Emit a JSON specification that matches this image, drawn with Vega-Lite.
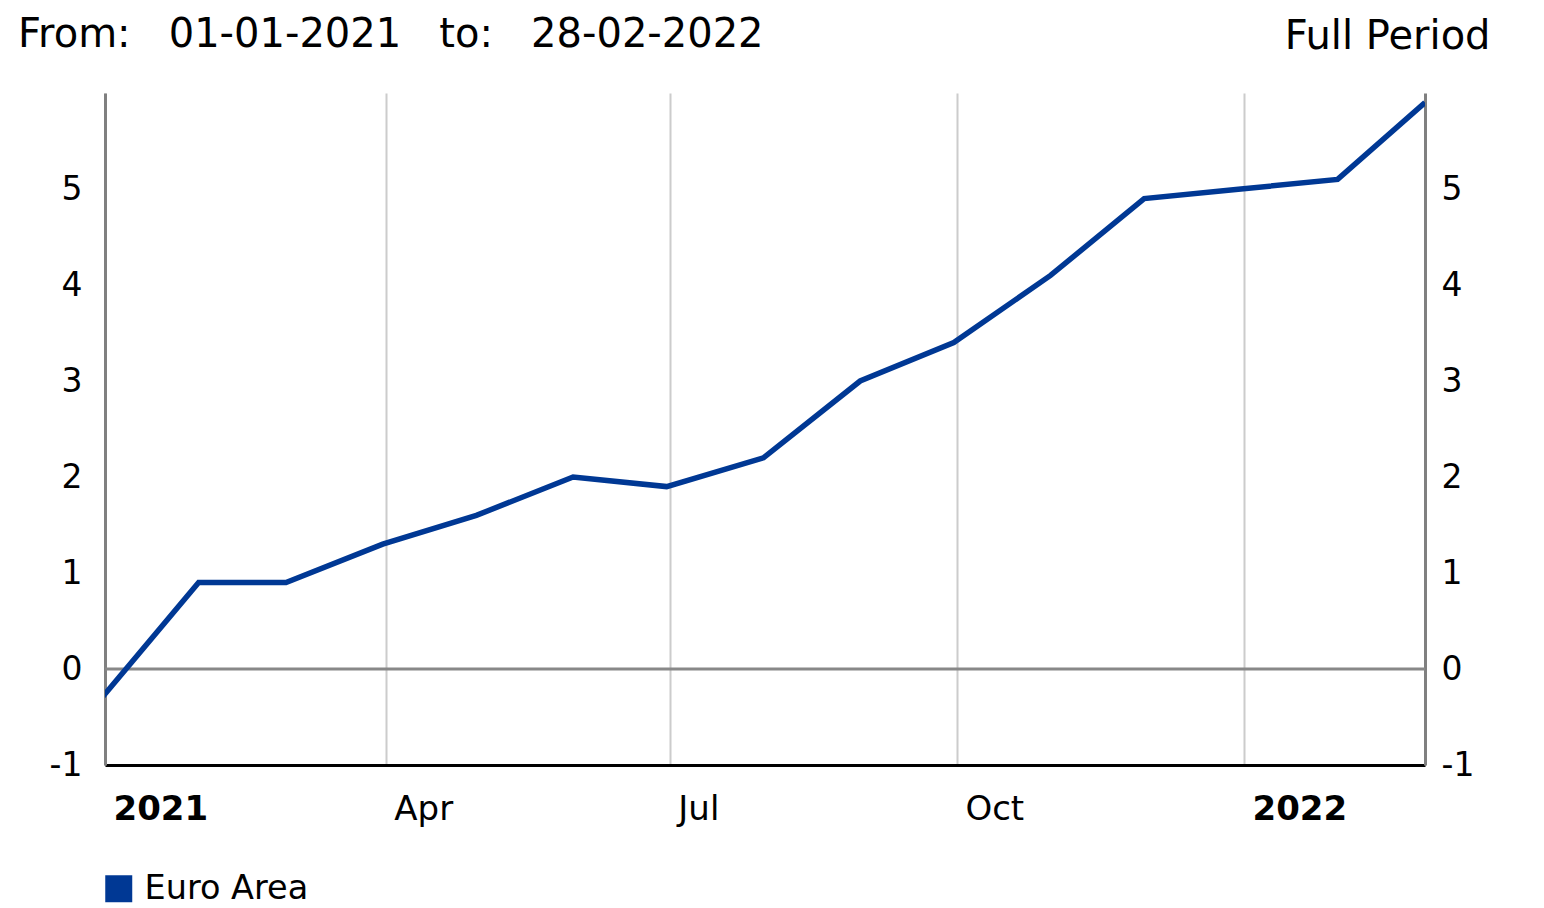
{
  "$schema": "https://vega.github.io/schema/vega-lite/v6.json",
  "width": 1320,
  "height": 672,
  "autosize": "none",
  "padding": {"left": 105, "top": 93, "right": 119, "bottom": 143},
  "background": "white",
  "config": {"font": "DejaVu Sans", "view": {"stroke": null}},
  "title": {
    "text": "From:\u00a0\u00a0\u00a001-01-2021\u00a0\u00a0\u00a0to:\u00a0\u00a0\u00a028-02-2022",
    "anchor": "start",
    "frame": "group",
    "fontSize": 40,
    "fontWeight": "normal",
    "color": "black",
    "font": "DejaVu Sans",
    "baseline": "alphabetic",
    "offset": 45,
    "dx": -87,
    "dy": 116
  },
  "layer": [
    {
      "data": {"values": [{"level": 0}]},
      "mark": {"type": "rule", "color": "#888888", "strokeWidth": 3},
      "encoding": {
        "y": {
          "field": "level",
          "type": "quantitative",
          "scale": {"domain": [-1, 6], "nice": false, "zero": false},
          "axis": {
            "orient": "right",
            "values": [-1, 0, 1, 2, 3, 4, 5],
            "labelExpr": "'' + datum.value",
            "title": "Full Period",
            "titleAngle": 0,
            "titleX": 65,
            "titleY": -45,
            "titleAlign": "right",
            "titleBaseline": "alphabetic",
            "titleFontSize": 40,
            "titleFontWeight": "normal",
            "titleColor": "black",
            "titleFont": "DejaVu Sans",
            "domainColor": "#808080",
            "domainWidth": 3,
            "ticks": false,
            "tickSize": 0,
            "grid": false,
            "labelFontSize": 33,
            "labelColor": "black",
            "labelPadding": 16,
            "labelFlush": false
          }
        }
      }
    },
    {
      "data": {
        "values": [
          {"date": "2020-12-31", "value": -0.3, "series": "Euro Area"},
          {"date": "2021-01-31", "value": 0.9, "series": "Euro Area"},
          {"date": "2021-02-28", "value": 0.9, "series": "Euro Area"},
          {"date": "2021-03-31", "value": 1.3, "series": "Euro Area"},
          {"date": "2021-04-30", "value": 1.6, "series": "Euro Area"},
          {"date": "2021-05-31", "value": 2.0, "series": "Euro Area"},
          {"date": "2021-06-30", "value": 1.9, "series": "Euro Area"},
          {"date": "2021-07-31", "value": 2.2, "series": "Euro Area"},
          {"date": "2021-08-31", "value": 3.0, "series": "Euro Area"},
          {"date": "2021-09-30", "value": 3.4, "series": "Euro Area"},
          {"date": "2021-10-31", "value": 4.1, "series": "Euro Area"},
          {"date": "2021-11-30", "value": 4.9, "series": "Euro Area"},
          {"date": "2021-12-31", "value": 5.0, "series": "Euro Area"},
          {"date": "2022-01-31", "value": 5.1, "series": "Euro Area"},
          {"date": "2022-02-28", "value": 5.9, "series": "Euro Area"}
        ]
      },
      "mark": {"type": "line", "strokeWidth": 5.5, "clip": true},
      "encoding": {
        "x": {
          "field": "date",
          "type": "temporal",
          "scale": {
            "type": "utc",
            "domain": [
              {"year": 2021, "month": 1, "date": 1, "utc": true},
              {"year": 2022, "month": 2, "date": 28, "utc": true}
            ]
          },
          "axis": {
            "title": null,
            "values": [
              {"year": 2021, "month": 1, "date": 1, "utc": true},
              {"year": 2021, "month": 4, "date": 1, "utc": true},
              {"year": 2021, "month": 7, "date": 1, "utc": true},
              {"year": 2021, "month": 10, "date": 1, "utc": true},
              {"year": 2022, "month": 1, "date": 1, "utc": true}
            ],
            "labelExpr": "utcmonth(datum.value) == 0 ? utcFormat(datum.value, '%Y') : utcFormat(datum.value, '%b')",
            "labelFontWeight": {"condition": {"test": "utcmonth(datum.value) == 0", "value": "bold"}, "value": "normal"},
            "labelFontSize": 34,
            "labelColor": "black",
            "labelAlign": "left",
            "labelOffset": 8,
            "labelBaseline": "alphabetic",
            "labelPadding": 54,
            "labelFlush": false,
            "labelOverlap": false,
            "domainColor": "black",
            "domainWidth": 3,
            "ticks": false,
            "tickSize": 0,
            "grid": true,
            "gridColor": "#cccccc",
            "gridWidth": 2
          }
        },
        "y": {
          "field": "value",
          "type": "quantitative",
          "scale": {"domain": [-1, 6], "nice": false, "zero": false},
          "axis": {
            "orient": "left",
            "values": [-1, 0, 1, 2, 3, 4, 5],
            "labelExpr": "'' + datum.value",
            "title": null,
            "domainColor": "#808080",
            "domainWidth": 3,
            "ticks": false,
            "tickSize": 0,
            "grid": false,
            "labelFontSize": 33,
            "labelColor": "black",
            "labelPadding": 23,
            "labelFlush": false
          }
        },
        "color": {
          "field": "series",
          "type": "nominal",
          "scale": {"range": ["#003894"]},
          "legend": {
            "title": null,
            "orient": "none",
            "legendX": -3,
            "legendY": 779,
            "padding": 0,
            "symbolType": "square",
            "symbolSize": 729,
            "labelFontSize": 33.5,
            "labelLimit": 500,
            "labelColor": "black",
            "labelFont": "DejaVu Sans",
            "labelOffset": 9,
            "encode": {
              "symbols": {"update": {"fill": {"value": "#003894"}, "stroke": {"value": "#003894"}, "strokeWidth": {"value": 0}}}
            }
          }
        }
      }
    }
  ],
  "resolve": {"axis": {"y": "independent"}}
}
